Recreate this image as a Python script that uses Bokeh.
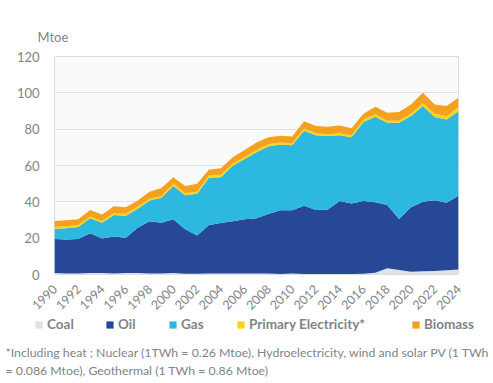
from bokeh.plotting import figure
from bokeh.models import Legend, LegendItem, Title, FixedTicker, Label
from bokeh.layouts import column
from bokeh.embed import file_html
from bokeh.resources import INLINE
import math

years = list(range(1990, 2025))
coal = [0.8, 0.5, 0.5, 0.8, 0.8, 0.5, 0.8, 0.8, 0.5, 0.5,
        0.8, 0.4, 0.4, 0.5, 0.5, 0.5, 0.5, 0.5, 0.5, 0.3,
        0.6, 0.3, 0.3, 0.3, 0.3, 0.3, 0.4, 1.0, 3.5, 2.5,
        1.5, 1.8, 1.9, 2.3, 2.8]
oil = [18.7, 18.8, 19.0, 21.9, 19.0, 20.4, 19.4, 25.0, 28.8, 28.0,
       29.6, 24.5, 21.1, 26.8, 27.9, 28.8, 29.9, 30.4, 32.8, 35.0,
       34.7, 37.5, 35.2, 35.5, 40.2, 38.8, 40.1, 38.8, 34.7, 28.0,
       35.5, 38.2, 39.0, 37.2, 40.5]
gas = [5.5, 6.2, 6.7, 8.2, 8.7, 11.8, 12.2, 10.4, 11.4, 13.7,
       18.3, 18.7, 23.0, 26.0, 25.2, 30.5, 33.2, 36.4, 37.1, 36.2,
       35.8, 41.3, 41.2, 40.4, 36.2, 36.4, 43.5, 47.1, 45.3, 53.0,
       50.3, 52.7, 45.8, 45.8, 46.5]
primary_electricity = [1.2, 1.1, 1.1, 1.0, 1.0, 1.0, 1.1, 1.1, 1.0, 1.0,
                       1.2, 1.2, 1.0, 1.2, 1.3, 1.1, 1.1, 1.3, 1.3, 1.1,
                       1.1, 1.3, 1.0, 1.0, 1.0, 1.1, 1.3, 1.3, 1.1, 1.1,
                       1.3, 1.6, 1.8, 1.8, 2.5]
biomass = [3.3, 3.2, 3.1, 3.6, 3.5, 3.9, 3.5, 3.4, 3.8, 4.4,
           3.7, 3.9, 4.5, 3.3, 3.6, 3.6, 3.8, 4.1, 3.8, 3.8,
           3.8, 4.0, 4.1, 4.1, 4.3, 3.9, 3.2, 4.2, 4.5, 4.9,
           5.0, 5.7, 5.1, 5.6, 5.0]

series_names = ["Coal", "Oil", "Gas", "Primary Electricity*", "Biomass"]
series_keys = ["coal", "oil", "gas", "pe", "biomass"]
colors = ["#dde3e6", "#264896", "#2db9df", "#fcd116", "#f4a11f"]
tick_years = list(range(1990, 2025, 2))
y_ticks = [0, 20, 40, 60, 80, 100, 120]
unit_label = "Mtoe"
footnote_1 = "*Including heat ; Nuclear (1TWh = 0.26 Mtoe),  Hydroelectricity, wind and solar PV (1 TWh"
footnote_2 = "= 0.086 Mtoe),  Geothermal  (1 TWh = 0.86 Mtoe)"

data = dict(year=years, coal=coal, oil=oil, gas=gas, pe=primary_electricity, biomass=biomass)

FONT = "Lato"
GRAY = "#7f8487"

# ---- main chart ----
p = figure(width=493, height=317, x_range=(1990, 2024), y_range=(0, 120),
           output_backend="svg", toolbar_location=None,
           min_border_left=54, min_border_right=35, min_border_top=56, min_border_bottom=42)
p.frame_align = False

p.varea_stack(stackers=series_keys, x="year", color=colors, source=data)

p.background_fill_color = "#fafafa"
p.border_fill_color = "white"
p.outline_line_color = "#d9dee1"
p.outline_line_width = 1

p.xgrid.grid_line_color = None
p.ygrid.grid_line_color = "#dce1e4"
p.ygrid.grid_line_width = 1

p.yaxis.ticker = FixedTicker(ticks=y_ticks)
p.yaxis.axis_line_color = None
p.yaxis.major_tick_line_color = None
p.yaxis.minor_tick_line_color = None
p.yaxis.major_tick_out = 0
p.yaxis.major_tick_in = 0
p.yaxis.major_label_standoff = 15
p.yaxis.major_label_text_font = FONT
p.yaxis.major_label_text_font_size = "13px"
p.yaxis.major_label_text_color = GRAY

p.xaxis.ticker = FixedTicker(ticks=tick_years)
p.xaxis.axis_line_color = None
p.xaxis.major_tick_line_color = None
p.xaxis.minor_tick_line_color = None
p.xaxis.major_tick_out = 0
p.xaxis.major_tick_in = 0
p.xaxis.major_label_orientation = math.pi / 4
p.xaxis.major_label_standoff = 12
p.xaxis.major_label_text_font = FONT
p.xaxis.major_label_text_font_size = "12.5px"
p.xaxis.major_label_text_color = GRAY

p.add_layout(Title(text=unit_label, align="left", offset=-17, standoff=23, text_font=FONT,
                   text_font_size="13px", text_font_style="normal", text_color=GRAY), "above")

# ---- legend + footnote strip ----
q = figure(width=493, height=66, x_range=(0, 493), y_range=(0, 66),
           output_backend="svg", toolbar_location=None, title=None,
           x_axis_location=None, y_axis_location=None,
           min_border_left=0, min_border_right=0, min_border_top=0, min_border_bottom=0)
q.frame_align = False
q.grid.grid_line_color = None
q.outline_line_color = None
q.background_fill_color = "white"
q.border_fill_color = "white"

# hidden copies of the stacked series, only used to feed the legend swatches
hidden = q.varea_stack(stackers=series_keys, x="year", color=colors, source=data, visible=False)

legend_x = [34, 105, 168, 236, 411]
for name, r, lx in zip(series_names, hidden, legend_x):
    lg = Legend(items=[LegendItem(label=name, renderers=[r])], location=(lx, 51),
                orientation="horizontal", padding=0, margin=0, spacing=0,
                glyph_width=9, glyph_height=9, label_height=9, label_standoff=4,
                border_line_color=None, background_fill_alpha=0,
                inactive_fill_alpha=0,
                label_text_font=FONT, label_text_font_size="13.5px",
                label_text_font_style="bold", label_text_color=GRAY)
    q.add_layout(lg, "center")

q.add_layout(Label(x=5, y=31, text=footnote_1, text_font=FONT, text_font_size="12.3px",
                   text_color=GRAY, text_baseline="middle", text_align="left"))
q.add_layout(Label(x=5, y=13, text=footnote_2, text_font=FONT, text_font_size="12.3px",
                   text_color=GRAY, text_baseline="middle", text_align="left"))

layout = column(p, q, spacing=0)
open("out.html", "w").write(file_html(layout, INLINE))
